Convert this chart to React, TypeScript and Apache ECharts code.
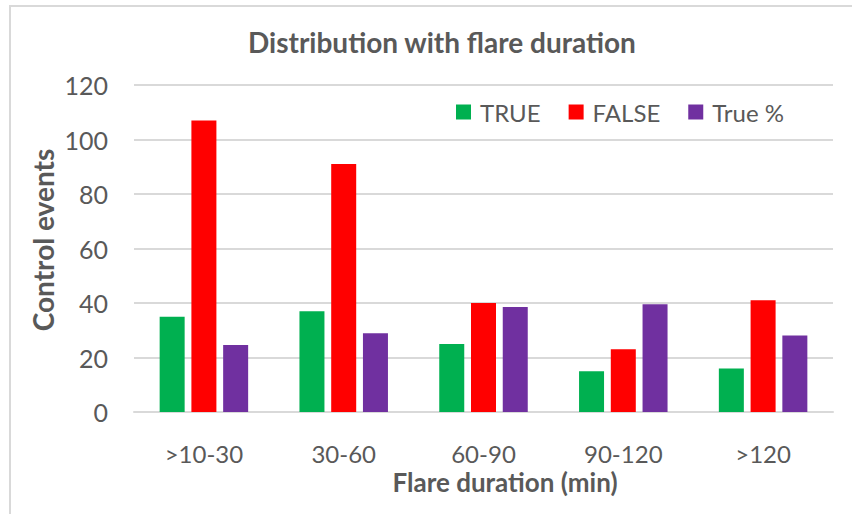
import React, { useEffect, useRef } from "react";
import * as echarts from "echarts";

const categories = [">10-30", "30-60", "60-90", "90-120", ">120"];
const trueCounts = [35, 37, 25, 15, 16];
const falseCounts = [107, 91, 40, 23, 41];
const truePct = [24.6, 28.9, 38.5, 39.5, 28.1];
const yTicks = [0, 20, 40, 60, 80, 100, 120];

const FONT = "Lato, 'Liberation Sans', sans-serif";
const GRAY = "#595959";

export default function App() {
  const ref = useRef<HTMLDivElement>(null);
  useEffect(() => {
    if (!ref.current) return;
    const chart = echarts.init(ref.current, null, { renderer: "svg" });
    chart.setOption({
      animation: false,
      backgroundColor: "#ffffff",
      textStyle: { fontFamily: FONT },
      title: {
        text: "Distribution with flare duration",
        left: 248,
        top: 28,
        padding: 0,
        textStyle: { fontFamily: FONT, fontWeight: "bold", fontSize: 28, color: GRAY },
      },
      legend: {
        left: 456,
        top: 100,
        padding: 0,
        itemWidth: 15,
        itemHeight: 15,
        itemGap: 28,
        icon: "rect",
        textStyle: { fontFamily: FONT, fontSize: 24, color: GRAY, padding: [0, 0, 0, 4] },
        data: ["TRUE", "FALSE", "True %"],
      },
      graphic: [
        {
          type: "rect",
          shape: { x: 10, y: 6, width: 900, height: 600 },
          style: { fill: "none", stroke: "#d9d9d9", lineWidth: 2 },
          silent: true,
        },
        {
          type: "text",
          x: 43,
          y: 240,
          rotation: Math.PI / 2,
          silent: true,
          style: {
            text: "Control events",
            fontFamily: FONT,
            fontWeight: "bold",
            fontSize: 28,
            fill: GRAY,
            align: "center",
            verticalAlign: "middle",
          },
        },
        {
          type: "text",
          x: 505,
          y: 482,
          silent: true,
          style: {
            text: "Flare duration (min)",
            fontFamily: FONT,
            fontWeight: "bold",
            fontSize: 26,
            fill: GRAY,
            align: "center",
            verticalAlign: "middle",
          },
        },
      ],
      grid: { left: 134, right: 19, top: 85, bottom: 102 },
      xAxis: {
        type: "category",
        data: categories,
        axisLine: { show: true, lineStyle: { color: "#d9d9d9", width: 2 } },
        axisTick: { show: false },
        axisLabel: { fontFamily: FONT, fontSize: 24, color: GRAY, margin: 29 },
      },
      yAxis: {
        type: "value",
        min: yTicks[0],
        max: yTicks[yTicks.length - 1],
        interval: 20,
        axisLine: { show: false },
        axisTick: { show: false },
        axisLabel: { fontFamily: FONT, fontSize: 25, color: GRAY, margin: 26 },
        splitLine: { lineStyle: { color: "#d9d9d9", width: 2 } },
      },
      series: [
        { name: "TRUE", type: "bar", data: trueCounts, barWidth: 25, barGap: "27%", itemStyle: { color: "#00b050" } },
        { name: "FALSE", type: "bar", data: falseCounts, barWidth: 25, barGap: "27%", itemStyle: { color: "#ff0000" } },
        { name: "True %", type: "bar", data: truePct, barWidth: 25, barGap: "27%", itemStyle: { color: "#7030a0" } },
      ],
    });
    return () => chart.dispose();
  }, []);
  return (
    <div
      ref={ref}
      style={{ position: "fixed", left: 0, top: 0, width: 852, height: 514, background: "#fff" }}
    />
  );
}
